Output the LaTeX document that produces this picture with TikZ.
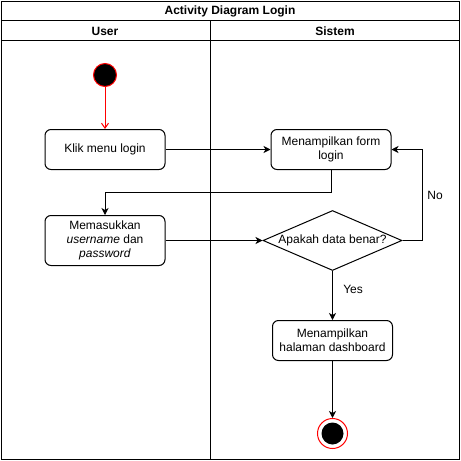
\documentclass[tikz,border=0pt]{standalone}
\usepackage{fontspec}
\setmainfont{Liberation Sans}
\usepackage{tikz}
\usetikzlibrary{arrows.meta,positioning,shapes.geometric}
\usepackage{xcolor}
\definecolor{startred}{RGB}{255,0,0}
\tikzset{
  action/.style={rectangle,draw,rounded corners=6pt,fill=white,minimum width=120pt,minimum height=40pt,align=center,inner sep=2pt},
  decision/.style={diamond,draw,fill=white,aspect=2.3,minimum width=139pt,minimum height=60pt,inner sep=0pt},
  startnode/.style={circle,draw=startred,fill=black,minimum size=23pt,inner sep=0pt},
  endnode/.style={circle,draw=startred,fill=white,minimum size=30pt,inner sep=0pt,
    path picture={\fill[black] (path picture bounding box.center) circle (11pt);}},
  lanehead/.style={font=\fontsize{12pt}{14pt}\selectfont\bfseries},
}
\begin{document}
\begin{tikzpicture}[x=1pt,y=1pt,>={Stealth[length=7pt,width=7pt,inset=2pt]},line width=1pt,
    font=\fontsize{12pt}{14pt}\selectfont,node distance=44pt and 105pt]
  \useasboundingbox (0,0) rectangle (461,-461);
  % pool and lanes
  \draw (1,-1) rectangle (459,-459);
  \draw (1,-20.5) -- (459,-20.5);
  \draw (1,-40.5) -- (459,-40.5);
  \draw (210.5,-20.5) -- (210.5,-459);
  \node[lanehead] (title) at (230,-11) {Activity Diagram Login};
  \node[lanehead] (user) at (105,-31) {User};
  \node[lanehead] (sistem) at (335,-31) {Sistem};

  % activities
  \node[startnode] (start) at (105,-75) {};
  \node[action,below=42pt of start] (klik) {Klik menu login};
  \node[action,right=105pt of klik] (form) {Menampilkan form\\login};
  \node[action,below=45pt of klik,minimum height=50pt] (masuk) {Memasukkan\\\textit{username} dan\\\textit{password}};
  \node[decision,right=97pt of masuk] (cek) {Apakah data benar?};
  \node[action,below=49pt of cek] (dashboard) {Menampilkan\\halaman dashboard};
  \node[endnode,below=57pt of dashboard] (end) {};

  \draw[->,startred,>={Straight Barb[length=5pt,width=7pt]}] (start) -- (klik);
  \draw[->] (klik) -- (form);
  \draw[->] (form.south) -- ++(0,-22) -| (masuk.north);
  \draw[->] (masuk) -- (cek);
  \draw[->] (cek.east) -- ++(20,0) |- (form.east) node[pos=0.25,right=1pt] {No};
  \draw[->] (cek) -- (dashboard) node[pos=0.38,right=7pt] {Yes};
  \draw[->] (dashboard) -- (end);
\end{tikzpicture}
\end{document}
